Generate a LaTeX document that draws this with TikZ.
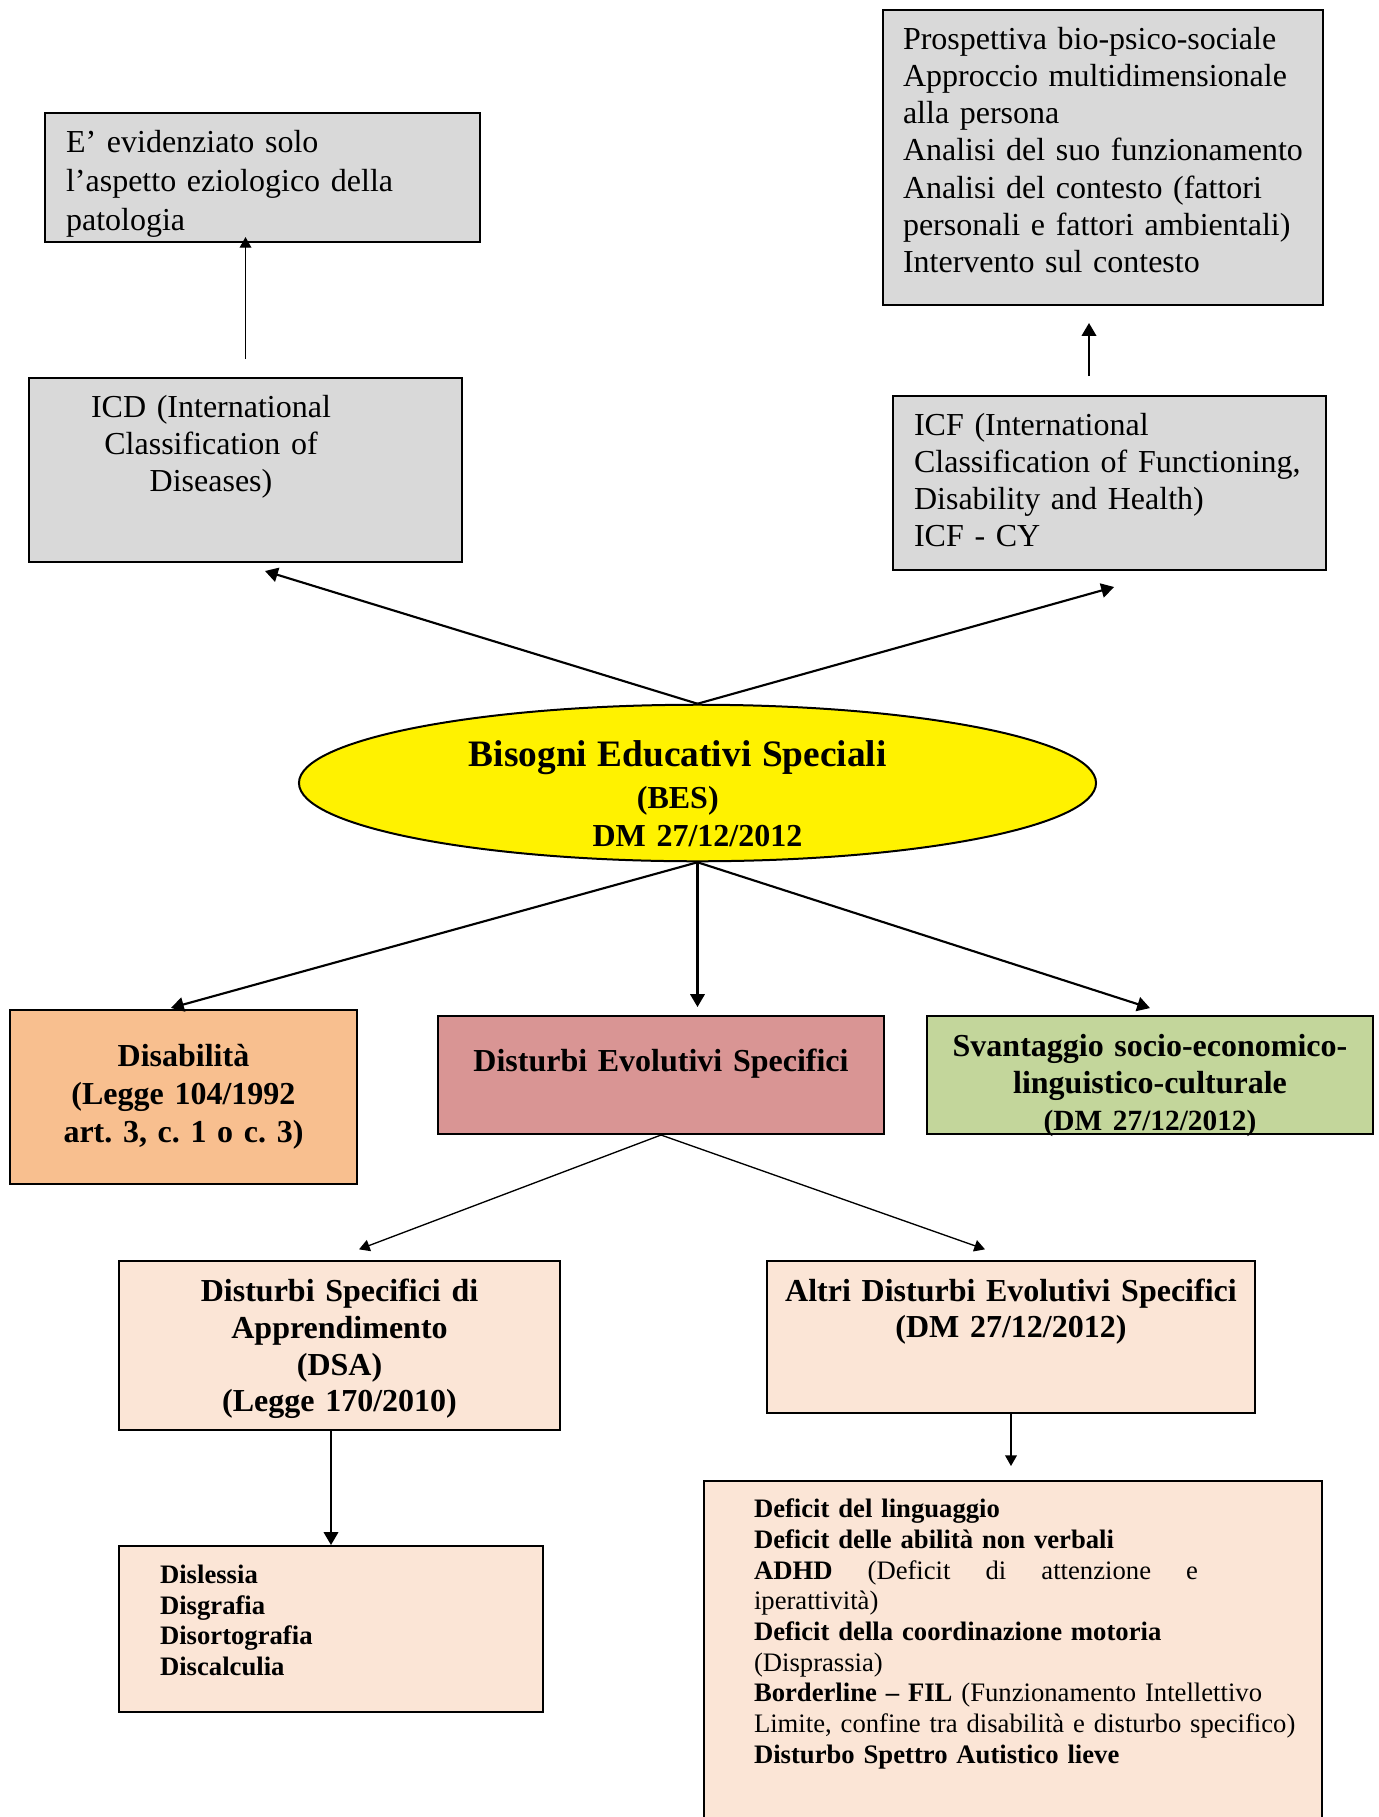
\documentclass[tikz,border=0pt]{standalone}
\usepackage{fontspec}
\setmainfont{Liberation Serif}
\usepackage{xcolor}
\usetikzlibrary{shapes.geometric,arrows.meta}
\frenchspacing
\definecolor{boxgrey}{HTML}{D9D9D9}
\definecolor{disorange}{HTML}{F8BF8F}
\definecolor{desrose}{HTML}{D99594}
\definecolor{svagreen}{HTML}{C3D69B}
\definecolor{peach}{HTML}{FBE5D6}
\tikzset{box/.style={draw, line width=0.75pt, rectangle, anchor=north west, inner ysep=0pt},
greybox/.style={box, fill=boxgrey, align=left, inner xsep=7.9pt, font=\fontsize{12}{13.9}\selectfont},
colbox/.style={box, align=center, inner xsep=4pt, font=\bfseries\fontsize{12}{13.9}\selectfont},
listbox/.style={box, fill=peach, align=left, font=\fontsize{10}{11.5}\selectfont},
arr/.style={-{Triangle[length=4.8pt,width=5.4pt]}, line width=0.8pt},
thinarr/.style={-{Triangle[length=4pt,width=4.4pt]}, line width=0.5pt}}
\begin{document}
\begin{tikzpicture}[x=0.375pt,y=-0.375pt]
\useasboundingbox (0,0) rectangle (1378,1817);
\node[greybox, text width=147.3pt, text height=14.9pt, text depth=33.5pt, font=\fontsize{12}{14.6}\selectfont] (evid) at (44,112)
{E’ evidenziato solo\\ l’aspetto eziologico della\\ patologia};
\node[greybox, inner xsep=7.5pt, text width=150pt, text height=14.9pt, text depth=95.7pt] (prosp) at (882,9)
{Prospettiva bio-psico-sociale\\ Approccio multidimensionale\\ alla persona\\ \mbox{Analisi del suo funzionamento}\\
Analisi del contesto (fattori\\ personali e fattori ambientali)\\ Intervento sul contesto};
\node[greybox, inner xsep=0pt, text width=162.4pt, text height=14.9pt, text depth=54.1pt] (icd) at (28,377)
{\parbox[t]{136.5pt}{\centering ICD (International\\ Classification of\\ Diseases)}};
\node[greybox, text width=146.6pt, text height=14.9pt, text depth=50.35pt] (icf) at (892,395)
{ICF (International\\ Classification of Functioning,\\ Disability and Health)\\ ICF - CY};
\node[ellipse, draw, line width=0.75pt, fill=yellow, minimum width=298.9pt, minimum height=58.7pt, inner sep=0pt,
text width=180pt, align=center, text height=0pt, text depth=12.4pt, font=\bfseries\fontsize{12}{14.25}\selectfont] (bes) at (697.5,783)
{\hspace*{-14.8pt}{\fontsize{14}{16}\selectfont Bisogni Educativi Speciali}\\[1.5pt] \hspace*{-14.8pt}(BES)\\ DM 27/12/2012};
\node[colbox, fill=disorange, text width=122.1pt, text height=21.25pt, text depth=44pt, font=\bfseries\fontsize{12}{14.25}\selectfont] (dis) at (9,1009)
{Disabilità\\ (Legge 104/1992\\ art. 3, c. 1 o c. 3)};
\node[colbox, fill=desrose, text width=159.25pt, text height=20.9pt, text depth=23.35pt] (des) at (437,1015)
{Disturbi Evolutivi Specifici};
\node[colbox, fill=svagreen, text width=159.25pt, text height=15.25pt, text depth=29pt] (sva) at (926,1015)
{Svantaggio socio-economico-\\ linguistico-culturale\\ {\fontsize{11}{13}\selectfont(DM 27/12/2012)}};
\node[colbox, fill=peach, text width=157.4pt, text height=15.25pt, text depth=48.1pt, font=\bfseries\fontsize{12}{13.75}\selectfont] (dsa) at (118,1260)
{Disturbi Specifici di\\ Apprendimento\\ (DSA)\\ (Legge 170/2010)};
\node[colbox, fill=peach, text width=175pt, text height=15.25pt, text depth=41.75pt, font=\bfseries\fontsize{12}{13.5}\selectfont] (altri) at (766,1260)
{Altri Disturbi Evolutivi Specifici\\ (DM 27/12/2012)};
\node[listbox, inner xsep=15.4pt, text width=128.2pt, text height=13.9pt, text depth=48.35pt, font=\bfseries\fontsize{10}{11.6}\selectfont] (dsl) at (118,1545)
{Dislessia\\ Disgrafia\\ Disortografia\\ Discalculia};
\node[listbox, inner xsep=18.75pt, text width=194.25pt, text height=13.8pt, text depth=115.6pt] (def) at (703,1480)
{\textbf{Deficit del linguaggio}\\ \textbf{Deficit delle abilità non verbali}\\
\leavevmode\hbox to 166.5pt{\textbf{ADHD}\hfill(Deficit\hfill di\hfill attenzione\hfill e}\\ iperattività)\\
\textbf{Deficit della coordinazione motoria}\\ (Disprassia)\\
\textbf{Borderline – FIL} (Funzionamento Intellettivo\\ \mbox{Limite, confine tra disabilità e disturbo specifico)}\\
\textbf{Disturbo Spettro Autistico lieve}};
\draw[thinarr] ([yshift=6.75pt]icd.north) -- ([yshift=2.25pt]icd.north |- evid.south);
\draw[arr] ([xshift=-7.7pt,yshift=7.1pt]icf.north) -- ([xshift=-7.7pt,yshift=-6.4pt]icf.north |- prosp.south);
\draw[arr] (bes.north) -- ([xshift=7.3pt,yshift=-3pt]icd.south);
\draw[arr] (bes.north) -- ([xshift=1.7pt,yshift=-6pt]icf.south);
\draw[arr] (bes.south) -- ([xshift=-4.7pt,yshift=0.4pt]dis.north);
\draw[arr] (bes.south) -- ([yshift=3pt]bes.south |- des.north);
\draw[arr] (bes.south) -- ([yshift=2.6pt]sva.north);
\draw[thinarr] (des.south) -- ([xshift=7.3pt,yshift=4pt]dsa.north);
\draw[thinarr] (des.south) -- ([xshift=-9.75pt,yshift=4pt]altri.north);
\draw[arr] (dsl.north |- dsa.south) -- (dsl.north);
\draw[thinarr] (altri.south) -- ([yshift=5.25pt]altri.south |- def.north);
\end{tikzpicture}
\end{document}
